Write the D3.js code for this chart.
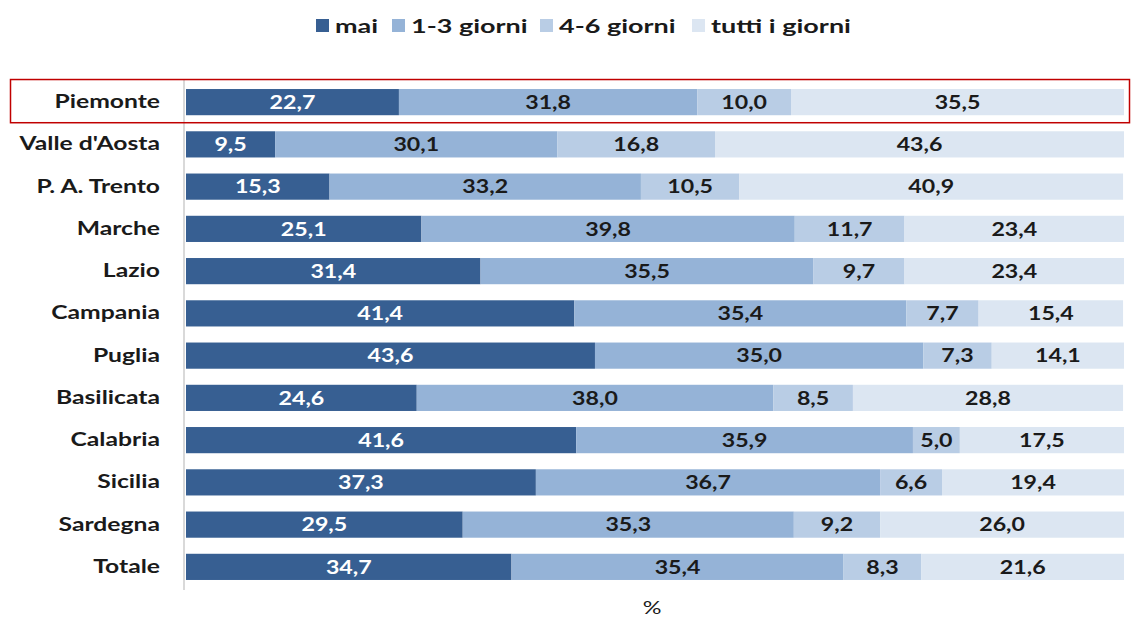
<!DOCTYPE html>
<html>
<head>
<meta charset="utf-8">
<script src="https://cdn.jsdelivr.net/npm/d3@7"></script>
<style>
  body { margin: 0; background: #fff; }
  svg text { font-family: Lato, "Open Sans", sans-serif; font-weight: bold; }
</style>
</head>
<body>
<svg id="chart" width="1135" height="617"></svg>
<script>
// regions (top to bottom)
const regions = ["Piemonte", "Valle d'Aosta", "P. A. Trento", "Marche", "Lazio", "Campania",
  "Puglia", "Basilicata", "Calabria", "Sicilia", "Sardegna", "Totale"];
const seriesNames = ["mai", "1-3 giorni", "4-6 giorni", "tutti i giorni"];
const mai = [22.7, 9.5, 15.3, 25.1, 31.4, 41.4, 43.6, 24.6, 41.6, 37.3, 29.5, 34.7];
const giorni13 = [31.8, 30.1, 33.2, 39.8, 35.5, 35.4, 35.0, 38.0, 35.9, 36.7, 35.3, 35.4];
const giorni46 = [10.0, 16.8, 10.5, 11.7, 9.7, 7.7, 7.3, 8.5, 5.0, 6.6, 9.2, 8.3];
const tutti = [35.5, 43.6, 40.9, 23.4, 23.4, 15.4, 14.1, 28.8, 17.5, 19.4, 26.0, 21.6];
const colors = ["#375f92", "#95b3d7", "#b9cde5", "#dce6f2"];
const textColors = ["#ffffff", "#1a1a1a", "#1a1a1a", "#1a1a1a"];

const rows = regions.map((r, i) => ({
  region: r, mai: mai[i], "1-3 giorni": giorni13[i], "4-6 giorni": giorni46[i], "tutti i giorni": tutti[i]
}));

const svg = d3.select("#chart");
const x = d3.scaleLinear().domain([0, 100]).range([186, 1124]);
const y = d3.scaleBand().domain(regions).range([81, 588]).paddingInner(0.38).paddingOuter(0.19);
const fmt = v => d3.format(".1f")(v).replace(".", ",");

// the original text is horizontally stretched, so texts get a scaleX
const stretch = (sel, sx) => sel.each(function() {
  const t = d3.select(this);
  const tx = +t.attr("x") || 0, ty = +t.attr("y") || 0;
  t.attr("x", 0).attr("y", 0).attr("transform", `translate(${tx},${ty}) scale(${sx},1)`);
});

const stack = d3.stack().keys(seriesNames)(rows);

const groups = svg.selectAll("g.series").data(stack).enter().append("g").attr("class", "series");
groups.each(function(s, si) {
  const g = d3.select(this);
  g.selectAll("rect").data(s).enter().append("rect")
    .attr("x", d => x(d[0]))
    .attr("y", d => y(d.data.region))
    .attr("width", d => x(d[1]) - x(d[0]))
    .attr("height", y.bandwidth())
    .attr("fill", colors[si]);
  g.selectAll("text").data(s).enter().append("text")
    .attr("x", d => (x(d[0]) + x(d[1])) / 2)
    .attr("y", d => y(d.data.region) + y.bandwidth() / 2)
    .attr("dy", "0.36em")
    .attr("text-anchor", "middle")
    .attr("font-size", 19)
    .attr("fill", textColors[si])
    .text(d => fmt(d[1] - d[0]))
    .call(stretch, 1.22);
});

// category axis
const yAxis = svg.append("g").attr("transform", "translate(184,0)")
  .call(d3.axisLeft(y).tickSize(0).tickPadding(24));
yAxis.select(".domain").attr("stroke", "#d9d9d9").attr("stroke-width", 2)
  .attr("d", "M0,80V590");
yAxis.selectAll("text").attr("font-size", 19).attr("fill", "#1a1a1a")
  .attr("font-family", "Lato, sans-serif").attr("font-weight", "bold")
  .call(stretch, 1.3);

// highlight box around Piemonte
svg.append("rect")
  .attr("x", 10.5).attr("y", y("Piemonte") - 9.5)
  .attr("width", 1119).attr("height", y.bandwidth() + 17)
  .attr("fill", "none").attr("stroke", "#c00000").attr("stroke-width", 1.5);

// legend
const legendX = [316, 392, 540, 692];
const legend = svg.append("g");
seriesNames.forEach((n, i) => {
  legend.append("rect").attr("x", legendX[i]).attr("y", 19).attr("width", 13).attr("height", 13)
    .attr("fill", colors[i]);
  legend.append("text").attr("x", legendX[i] + 19).attr("y", 26).attr("dy", "0.36em")
    .attr("font-size", 19).attr("fill", "#1a1a1a").text(n)
    .call(stretch, 1.42);
});

// x axis title
svg.append("text").attr("x", 652).attr("y", 608).attr("dy", "0.36em")
  .attr("text-anchor", "middle").attr("font-size", 18)
  .attr("fill", "#1a1a1a").style("font-weight", "normal").text("%")
  .call(stretch, 1.3);
</script>
</body>
</html>
